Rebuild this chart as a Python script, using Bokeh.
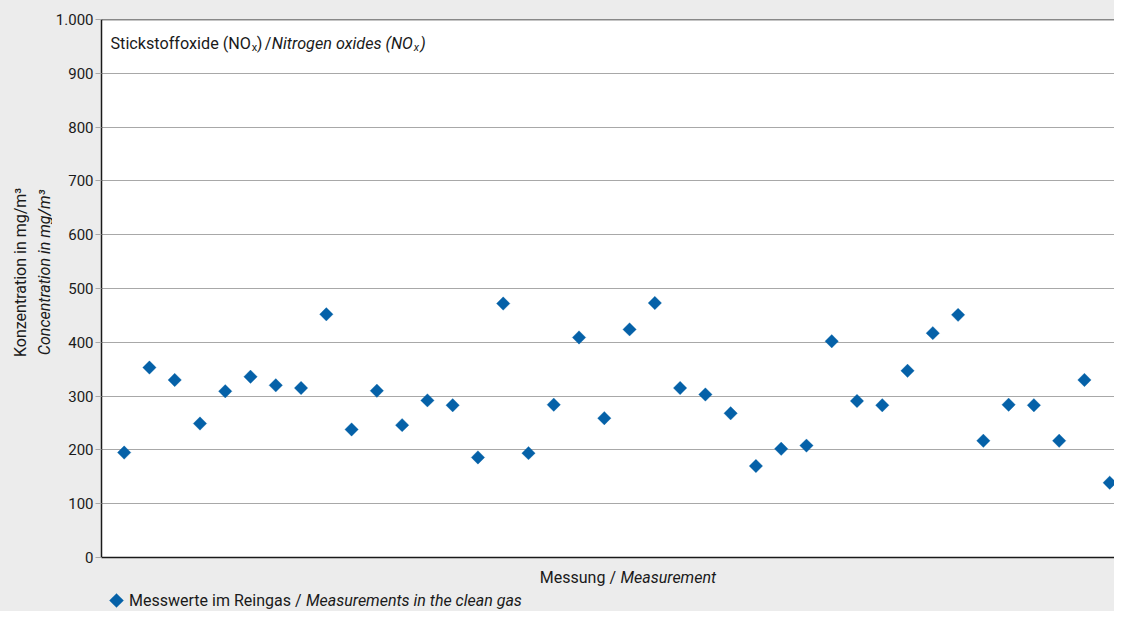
import math
from bokeh.plotting import figure
from bokeh.layouts import row, column
from bokeh.models import Range1d, FixedTicker, Label, Span
from bokeh.core.properties import value
from bokeh.embed import file_html
from bokeh.resources import INLINE

# ---------------- data ----------------
measurement = list(range(1, 41))
nox_values = [195, 353, 330, 249, 309, 336, 320, 315, 452, 238,
              310, 246, 292, 283, 186, 472, 194, 284, 409, 259,
              424, 473, 315, 303, 268, 170, 202, 208, 402, 291,
              283, 347, 417, 451, 217, 284, 283, 217, 330, 139]
y_ticks = [0, 100, 200, 300, 400, 500, 600, 700, 800, 900, 1000]
y_tick_labels = ["0", "100", "200", "300", "400", "500", "600", "700", "800", "900", "1.000"]

title_de = "Stickstoffoxide (NO"
title_en = "Nitrogen oxides (NO"
sub_x = "x"
y_label_de = "Konzentration in mg/m\u00b3"
y_label_en = "Concentration in mg/m\u00b3"
x_label_de = "Messung /"
x_label_en = "Measurement"
legend_de = "Messwerte im Reingas /"
legend_en = "Measurements in the clean gas"

# ---------------- style ----------------
FONT = "Roboto"
TXT = "#1a1a1a"
BLUE = "#0561a8"
BG = "#ececec"
GRID = "#a8a8a8"
AXIS = "#1a1a1a"
FS = "16px"

W, H = 1114, 611
LW = 52            # left strip for the y-axis title
MH = 568           # height of main figure
FL, FT, FB = 100, 19, 557   # frame left / top / bottom in page px
X0, X1 = 0.103, 40.19
Y0, Y1 = 0, 1000

def xd(px):
    return X0 + (px - FL) * (X1 - X0) / (W - FL)

def yd(py):
    return Y0 + (FB - py) * (Y1 - Y0) / (FB - FT)

def blank(width, height):
    f = figure(width=width, height=height, output_backend="svg", toolbar_location=None,
               x_range=Range1d(0, width), y_range=Range1d(0, height), title=None,
               min_border=0, min_border_left=0, min_border_right=0,
               min_border_top=0, min_border_bottom=0)
    f.axis.visible = False
    f.grid.visible = False
    f.outline_line_color = None
    f.background_fill_color = BG
    f.border_fill_color = BG
    f.styles = {"background-color": BG}
    return f

# ---------------- main figure ----------------
p = figure(width=W - LW, height=MH, output_backend="svg", toolbar_location=None,
           x_range=Range1d(X0, X1), y_range=Range1d(Y0, Y1), title=None,
           min_border_left=FL - LW, min_border_right=0, min_border_top=FT,
           min_border_bottom=MH - FB)
p.background_fill_color = "white"
p.border_fill_color = BG
p.outline_line_color = None
p.styles = {"background-color": BG}

p.yaxis.ticker = FixedTicker(ticks=y_ticks)
p.yaxis.major_label_overrides = {t: l for t, l in zip(y_ticks, y_tick_labels)}
p.yaxis.major_label_text_font = FONT
p.yaxis.major_label_text_font_size = "15px"
p.yaxis.major_label_text_color = TXT
p.yaxis.major_label_standoff = 2
p.yaxis.major_tick_in = 0
p.yaxis.major_tick_out = 6
p.yaxis.major_tick_line_color = GRID
p.yaxis.minor_tick_line_color = None
p.yaxis.axis_line_color = AXIS
p.yaxis.axis_line_width = 1.5

p.xaxis.ticker = FixedTicker(ticks=[])
p.xaxis.major_tick_line_color = None
p.xaxis.minor_tick_line_color = None
p.xaxis.major_label_text_font_size = "0px"
p.xaxis.axis_line_color = AXIS
p.xaxis.axis_line_width = 1.5

p.xgrid.visible = False
p.ygrid.ticker = FixedTicker(ticks=y_ticks)
p.ygrid.grid_line_color = GRID
p.ygrid.grid_line_width = 1

p.add_layout(Span(location=Y1, dimension="width", line_color=AXIS, line_width=1.5))

marker_style = dict(marker="square", angle=math.pi / 4,
                    fill_color=BLUE, line_color=BLUE, line_width=0.3)
r = p.scatter(measurement, nox_values, size=9.5, **marker_style)

def tlab(text, px, py, size="16.2px", style="normal", align="left"):
    p.add_layout(Label(x=xd(px), y=yd(py), text=text, text_align=align,
                       text_baseline="alphabetic", text_font=FONT,
                       text_font_size=size, text_font_style=style, text_color=TXT))

tlab(title_de, 109, 42.5)
tlab(sub_x, 250.5, 47, size="11px")
tlab(")", 255.5, 42.5)
tlab("/", 263.5, 42.5)
tlab(title_en, 270.5, 42.5, style="italic")
tlab(sub_x, 412.5, 47, size="11px", style="italic")
tlab(")", 419, 42.5, style="italic")

# ---------------- left strip: y-axis title ----------------
left = blank(LW, MH)
YC = MH - 267
left.text(x=[20], y=[YC], text=[y_label_de], angle=math.pi / 2,
          text_align="center", text_baseline="middle",
          text_font=value(FONT), text_font_size=FS, text_color=TXT)
left.text(x=[43.5], y=[YC], text=[y_label_en], angle=math.pi / 2,
          text_align="center", text_baseline="middle",
          text_font=value(FONT), text_font_size=FS, text_font_style="italic",
          text_color=TXT)

# ---------------- bottom strip: x-axis title and legend ----------------
BH = H - MH
bottom = blank(W, BH)

def by(py):
    return H - py

XL_Y = 577
bottom.text(x=[615.5], y=[by(XL_Y)], text=[x_label_de], text_align="right",
            text_baseline="middle", text_font=value(FONT), text_font_size=FS,
            text_color=TXT)
bottom.text(x=[620], y=[by(XL_Y)], text=[x_label_en], text_align="left",
            text_baseline="middle", text_font=value(FONT), text_font_size=FS,
            text_font_style="italic", text_color=TXT)

# legend: key symbol (same marker style as the series) + two-style label
LG_Y = 600
bottom.scatter(x=[116], y=[by(LG_Y)], size=10, **marker_style)
bottom.text(x=[301], y=[by(LG_Y)], text=[legend_de], text_align="right",
            text_baseline="middle", text_font=value(FONT), text_font_size=FS,
            text_color=TXT)
bottom.text(x=[305.5], y=[by(LG_Y)], text=[legend_en], text_align="left",
            text_baseline="middle", text_font=value(FONT), text_font_size=FS,
            text_font_style="italic", text_color=TXT)

top_row = row(left, p, spacing=0, styles={"background-color": BG})
layout = column(top_row, bottom, spacing=0, styles={"background-color": BG})
open("out.html", "w").write(file_html(layout, INLINE))
